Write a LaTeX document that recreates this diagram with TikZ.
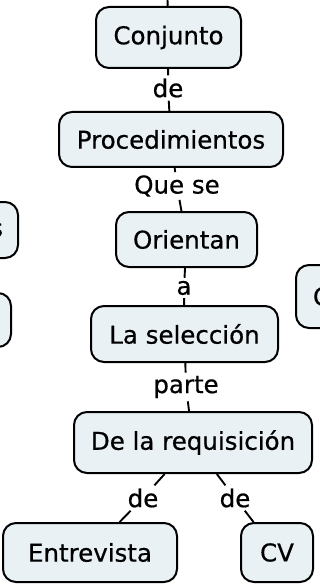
\documentclass[tikz,border=0pt]{standalone}
\usepackage{fontspec}
\setmainfont{DejaVu Sans}[FakeBold=0.6]
\usetikzlibrary{positioning}

\definecolor{cmapfill}{RGB}{233,241,245}

\begin{document}
\begin{tikzpicture}[x=1pt,y=-1pt,
    concept/.style={draw=black, line width=2pt, fill=cmapfill,
      rounded corners=13pt, inner sep=0pt,
      font=\fontsize{24.5}{28}\selectfont},
    lbl/.style={inner sep=3pt, font=\fontsize{24.5}{28}\selectfont},
    link/.style={line width=1.9pt}]
   \useasboundingbox (0,0) rectangle (320,585);
   \clip (0,0) rectangle (320,585);

   % main chain
   \node[concept, minimum width=145pt, minimum height=61pt] (conj) at (168.5,37.5) {Conjunto};
   \node[concept, minimum width=224pt, minimum height=55pt] (proc) at (171,139.5) {Procedimientos};
   \node[concept, minimum width=141pt, minimum height=55pt] (ori) at (186.5,239.5) {Orientan};
   \node[concept, minimum width=187pt, minimum height=56pt] (sel) at (184.5,334) {La selección};
   \node[concept, minimum width=238pt, minimum height=61pt] (req) at (193,442.5) {De la requisición};
   \node[concept, minimum width=174pt, minimum height=59pt] (entr) at (90,552.5) {Entrevista};
   \node[concept, minimum width=72pt, minimum height=59pt] (cv) at (277,552.5) {CV};

   % nodes cut by the border
   \node[concept, anchor=east, inner xsep=15pt, minimum height=56pt] (side1) at (19,230) {s};
   \node[concept, anchor=east, minimum width=60pt, minimum height=54pt] (side2) at (12,320) {};
   \node[concept, anchor=west, inner xsep=17pt, minimum height=63pt] (side3) at (295,296.5) {C};
   \coordinate (top) at (167,-20);

   % linking phrases
   \node[lbl] (l1) at (168,88) {de};
   \node[lbl] (l2) at (177,186) {Que se};
   \node[lbl] (l3) at (184,288) {a\hspace{23pt}};
   \node[lbl] (l4) at (186,387) {parte};
   \node[lbl] (l5) at (143,498) {de};
   \node[lbl] (l6) at (235,498) {de};

   \draw[link] (conj) -- (top);
   \draw[link] (conj) -- (l1) -- (proc);
   \draw[link] (proc) -- (l2) -- (ori);
   \draw[link] (ori) -- (l3) -- (sel);
   \draw[link] (sel) -- (l4) -- (req);
   \draw[link] (req) -- (l5) -- (entr);
   \draw[link] (req) -- (l6) -- (cv);
\end{tikzpicture}
\end{document}
